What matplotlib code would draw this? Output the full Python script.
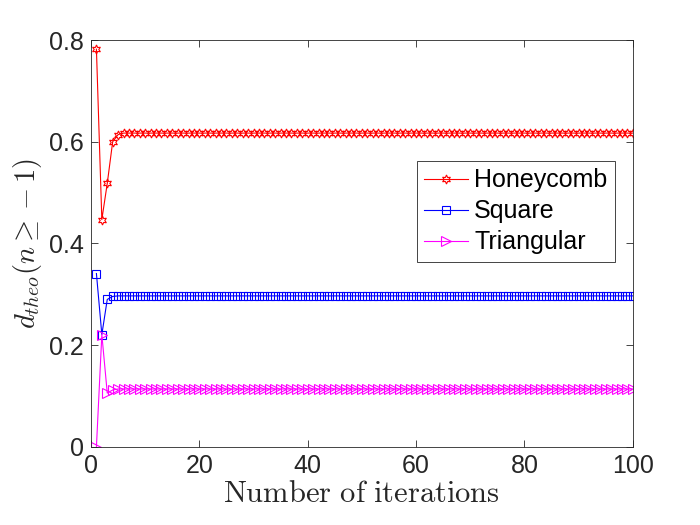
import numpy as np
import matplotlib
matplotlib.use('Agg')
import matplotlib.pyplot as plt

plt.rcParams['font.family'] = ['Liberation Sans', 'DejaVu Sans']
plt.rcParams['mathtext.fontset'] = 'cm'

iterations = np.arange(1, 101)

honeycomb_start = [0.782, 0.447, 0.518, 0.600, 0.614]
honeycomb_limit = 0.617
square_start = [0.341, 0.221, 0.290, 0.296]
square_limit = 0.297
triangular_start = [0.000, 0.221, 0.106, 0.112]
triangular_limit = 0.114

honeycomb = honeycomb_start + [honeycomb_limit] * (100 - len(honeycomb_start))
square = square_start + [square_limit] * (100 - len(square_start))
triangular = triangular_start + [triangular_limit] * (100 - len(triangular_start))

fig = plt.figure(figsize=(7, 5.25), dpi=100)
ax = fig.add_axes([0.130, 0.1486, 0.774, 0.7752])

ax.plot(iterations, honeycomb, color='red', lw=0.8, marker=(6, 1, 0), ms=6.5,
        mfc='none', mew=0.8, label='Honeycomb')
ax.plot(iterations, square, color='blue', lw=0.8, marker='s', ms=5.8,
        mfc='none', mew=0.8, label='Square')
ax.plot(iterations, triangular, color='magenta', lw=0.8, marker='>', ms=6.5,
        mfc='none', mew=0.8, label='Triangular')

ax.set_xlim(0, 100)
ax.set_ylim(0, 0.8)
ax.set_xticks(range(0, 101, 20))
ax.set_yticks([0, 0.2, 0.4, 0.6, 0.8])
ax.set_yticklabels(['0', '0.2', '0.4', '0.6', '0.8'])
ax.tick_params(direction='in', labelsize=18, top=True, right=True, length=5,
               colors='#262626', width=0.6, pad=5)
for s in ax.spines.values():
    s.set_linewidth(0.6)
    s.set_color('#262626')

ax.set_xlabel(r'$\mathrm{Number\ of\ iterations}$', fontsize=22, labelpad=1,
              color='#262626')
ax.set_ylabel(r'$d_{theo}(n \geq -1)$', fontsize=20.5, labelpad=4,
              color='#262626')

leg = ax.legend(loc='upper right', bbox_to_anchor=(0.967, 0.703), fontsize=18,
                fancybox=False, edgecolor='#262626', framealpha=1,
                handlelength=1.75, borderpad=0.3, labelspacing=0.28,
                handletextpad=0.25, borderaxespad=0)
leg.get_frame().set_linewidth(0.6)

fig.savefig('out.png', dpi=100)
